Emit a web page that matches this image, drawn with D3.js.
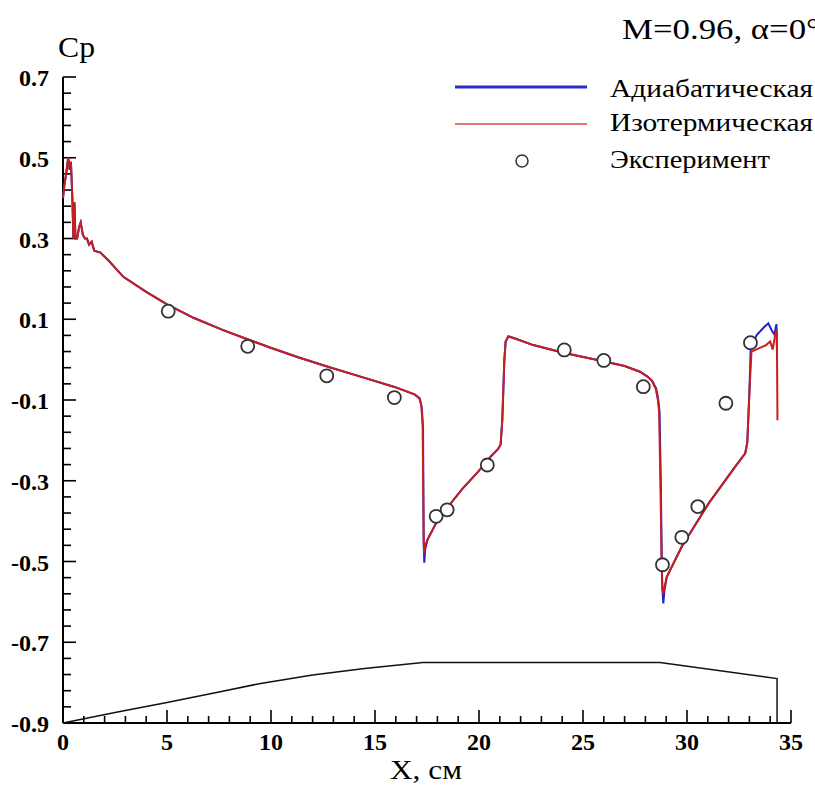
<!DOCTYPE html>
<html lang="ru">
<head>
<meta charset="utf-8" />
<title>Cp, M=0.96</title>
<style>
html, body {
	margin: 0;
	padding: 0;
	background: #fff;
}
svg {
	display: block;
}
text {
	font-family: "Liberation Serif", "DejaVu Serif", serif;
	fill: #000;
}
.tick-label {
	font-weight: bold;
	font-size: 24px;
}
</style>
</head>
<body>
<svg width="815" height="794"></svg>

<script src="https://cdn.jsdelivr.net/npm/d3@7/dist/d3.min.js"></script>
<script>
// адиабатическая стенка [X, Cp]
var adiabatic = [
	[0.00,0.40],[0.06,0.43],[0.15,0.46],[0.25,0.50],[0.32,0.47],[0.38,0.49],[0.45,0.40],
	[0.50,0.30],[0.55,0.39],[0.60,0.30],[0.68,0.30],[0.78,0.33],[0.85,0.34],[0.95,0.31],
	[1.05,0.30],[1.15,0.30],[1.25,0.285],[1.38,0.292],[1.5,0.27],[1.8,0.265],[2.2,0.245],
	[2.9,0.205],[4.0,0.168],[5.0,0.137],[6.3,0.103],[7.7,0.073],[8.9,0.05],[9.95,0.03],
	[11.3,0.006],[12.7,-0.017],[14.3,-0.042],[15.9,-0.067],[16.9,-0.086],[17.15,-0.096],
	[17.25,-0.12],[17.31,-0.17],[17.34,-0.45],[17.37,-0.503],[17.41,-0.47],[17.53,-0.445],
	[17.94,-0.405],[18.5,-0.365],[19.2,-0.32],[19.95,-0.278],[20.6,-0.238],[20.91,-0.222],
	[21.04,-0.21],[21.12,-0.15],[21.22,0.0],[21.28,0.045],[21.41,0.058],[21.7,0.053],
	[22.61,0.036],[24.05,0.017],[25.98,-0.004],[27.0,-0.016],[27.74,-0.03],[28.1,-0.042],
	[28.32,-0.052],[28.52,-0.072],[28.62,-0.1],[28.68,-0.13],[28.74,-0.3],[28.8,-0.55],
	[28.86,-0.604],[28.92,-0.57],[29.03,-0.538],[29.75,-0.463],[31.04,-0.356],[32.32,-0.265],
	[32.8,-0.232],[32.9,-0.205],[33.0,-0.08],[33.06,0.024],[33.35,0.061],[33.7,0.08],
	[33.91,0.09],[34.07,0.073],[34.2,0.062],[34.3,0.088],[34.33,0.0]
];

// изотермическая стенка [X, Cp]
var isothermal = [
	[0.00,0.40],[0.06,0.43],[0.15,0.46],[0.25,0.50],[0.32,0.47],[0.38,0.49],[0.45,0.40],
	[0.50,0.30],[0.55,0.39],[0.60,0.30],[0.68,0.30],[0.78,0.33],[0.85,0.34],[0.95,0.31],
	[1.05,0.30],[1.15,0.30],[1.25,0.285],[1.38,0.292],[1.5,0.27],[1.8,0.265],[2.2,0.245],
	[2.9,0.205],[4.0,0.168],[5.0,0.137],[6.3,0.103],[7.7,0.073],[8.9,0.05],[9.95,0.03],
	[11.3,0.006],[12.7,-0.017],[14.3,-0.042],[15.9,-0.067],[16.9,-0.086],[17.13,-0.096],
	[17.22,-0.11],[17.29,-0.16],[17.34,-0.447],[17.36,-0.48],[17.42,-0.46],[17.53,-0.445],
	[17.94,-0.405],[18.5,-0.365],[19.2,-0.32],[19.95,-0.278],[20.6,-0.238],[20.91,-0.222],
	[21.04,-0.21],[21.12,-0.15],[21.22,0.0],[21.28,0.045],[21.41,0.057],[21.7,0.053],
	[22.61,0.036],[24.05,0.017],[25.98,-0.004],[27.0,-0.016],[27.74,-0.03],[28.1,-0.042],
	[28.3,-0.052],[28.5,-0.072],[28.6,-0.1],[28.66,-0.13],[28.72,-0.3],[28.78,-0.5],
	[28.82,-0.57],[28.86,-0.58],[28.93,-0.56],[29.03,-0.538],[29.75,-0.463],[31.04,-0.356],
	[32.32,-0.265],[32.8,-0.232],[32.9,-0.205],[33.0,-0.08],[33.1,0.02],[33.45,0.028],
	[33.8,0.036],[34.0,0.045],[34.12,0.025],[34.25,0.065],[34.32,0.075],[34.35,-0.15]
];

// эксперимент
var experiment = [
	[5.06,0.12],[8.88,0.033],[12.68,-0.04],[15.93,-0.094],[17.94,-0.388],[18.47,-0.372],
	[20.4,-0.261],[24.1,0.024],[26.0,-0.002],[27.9,-0.067],[28.82,-0.508],[29.75,-0.44],
	[30.52,-0.364],[31.87,-0.108],[33.05,0.042]
];

// контур модели
var body = [
	[0,-0.9],[2.5,-0.874],[5,-0.849],[7.5,-0.823],[9.5,-0.802],[12,-0.781],[14.5,-0.765],
	[17.3,-0.75],[28.7,-0.75],[34.33,-0.79],[34.33,-0.9]
];

var xTicks = [0, 5, 10, 15, 20, 25, 30, 35];
var yTicks = [0.7, 0.5, 0.3, 0.1, -0.1, -0.3, -0.5, -0.7, -0.9];

var legendNames = ["Адиабатическая", "Изотермическая", "Эксперимент"];

var svg = d3.select("svg");

var x = d3.scaleLinear().domain([0, 35]).range([63, 791]);
var y = d3.scaleLinear().domain([-0.9, 0.7]).range([723, 77]);

var line = d3.line()
	.x(function(d){ return x(d[0]); })
	.y(function(d){ return y(d[1]); });

// малые деления
var xMinor = d3.range(0, 35.01, 1);
var yMinor = d3.range(-0.9, 0.701, 0.04);

var axes = svg.append("g").attr("stroke", "#000").attr("fill", "none");

axes.selectAll(".xm").data(xMinor).enter().append("line")
	.attr("x1", function(d){ return x(d); }).attr("x2", function(d){ return x(d); })
	.attr("y1", y(-0.9)).attr("y2", function(d){ return y(-0.9) - (d % 5 === 0 ? 13 : 7); })
	.attr("stroke-width", 1.6);

axes.selectAll(".ym").data(yMinor).enter().append("line")
	.attr("y1", function(d){ return y(d); }).attr("y2", function(d){ return y(d); })
	.attr("x1", x(0)).attr("x2", function(d, i){ return x(0) + (i % 5 === 0 ? 13 : 8); })
	.attr("stroke-width", 1.6);

axes.append("line")
	.attr("x1", x(0)).attr("x2", x(35)).attr("y1", y(-0.9)).attr("y2", y(-0.9))
	.attr("stroke-width", 2);
axes.append("line")
	.attr("x1", x(0)).attr("x2", x(0)).attr("y1", y(-0.9)).attr("y2", y(0.7))
	.attr("stroke-width", 2);

svg.selectAll(".xl").data(xTicks).enter().append("text")
	.attr("class", "tick-label")
	.attr("x", function(d){ return x(d); })
	.attr("y", 750)
	.attr("text-anchor", "middle")
	.text(function(d){ return d; });

svg.selectAll(".yl").data(yTicks).enter().append("text")
	.attr("class", "tick-label")
	.attr("x", 49)
	.attr("y", function(d){ return y(d) + 9; })
	.attr("text-anchor", "end")
	.text(function(d){ return d.toFixed(1); });

// контур
svg.append("path").datum(body)
	.attr("d", line).attr("fill", "none").attr("stroke", "#111").attr("stroke-width", 1.5);

svg.append("path").datum(adiabatic)
	.attr("d", line).attr("fill", "none").attr("stroke", "#2121c8").attr("stroke-width", 2);

svg.append("path").datum(isothermal)
	.attr("d", line).attr("fill", "none").attr("stroke", "#c81e1e").attr("stroke-width", 2);

svg.selectAll(".exp").data(experiment).enter().append("circle")
	.attr("cx", function(d){ return x(d[0]); })
	.attr("cy", function(d){ return y(d[1]); })
	.attr("r", 6.5)
	.attr("fill", "#fff")
	.attr("stroke", "#333")
	.attr("stroke-width", 1.8);

// подписи
svg.append("text").attr("x", 58).attr("y", 57)
	.attr("font-size", 30).attr("textLength", 37).attr("lengthAdjust", "spacingAndGlyphs")
	.text("Cp");

svg.append("text").attr("x", 390).attr("y", 779)
	.attr("font-size", 28).attr("textLength", 72).attr("lengthAdjust", "spacingAndGlyphs")
	.text("X, см");

svg.append("text").attr("x", 622).attr("y", 39)
	.attr("font-size", 30).attr("textLength", 198).attr("lengthAdjust", "spacingAndGlyphs")
	.text("M=0.96, α=0°");

// легенда
var leg = svg.append("g");
leg.append("line").attr("x1", 455).attr("x2", 587).attr("y1", 87).attr("y2", 87)
	.attr("stroke", "#2a2ad0").attr("stroke-width", 3);
leg.append("line").attr("x1", 455).attr("x2", 587).attr("y1", 124).attr("y2", 124)
	.attr("stroke", "#dc4646").attr("stroke-width", 1.5);
leg.append("circle").attr("cx", 522).attr("cy", 161).attr("r", 6)
	.attr("fill", "#fff").attr("stroke", "#333").attr("stroke-width", 1.5);

var legY = [97, 131, 168];
var legW = [203, 203, 160];
leg.selectAll(".lt").data(legendNames).enter().append("text")
	.attr("x", 610)
	.attr("y", function(d, i){ return legY[i]; })
	.attr("font-size", 26)
	.attr("textLength", function(d, i){ return legW[i]; })
	.attr("lengthAdjust", "spacingAndGlyphs")
	.text(function(d){ return d; });
</script>
</body>
</html>
